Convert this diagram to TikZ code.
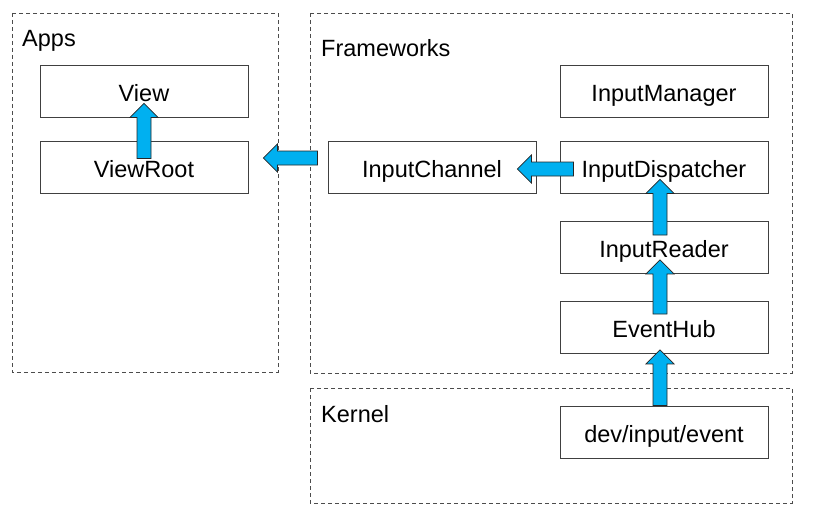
\documentclass[tikz,border=0pt]{standalone}
\usepackage{fontspec}
\setmainfont{Liberation Sans}
\usetikzlibrary{arrows.meta,calc,positioning}

\definecolor{arrowcyan}{RGB}{0,176,240}
\definecolor{boxline}{RGB}{64,64,64}

% fat block arrow from #1 (tail) to #2 (tip)
\newcommand{\blockarrow}[2]{%
  \coordinate (hb) at ($(#2)!14pt!(#1)$);
  \draw[fatarrow] ($(#1)!7pt!90:(#2)$) -- ($(hb)!7pt!90:(#2)$)
    -- ($(hb)!14pt!90:(#2)$) -- (#2) -- ($(hb)!14pt!-90:(#2)$)
    -- ($(hb)!7pt!-90:(#2)$) -- ($(#1)!7pt!-90:(#2)$) -- cycle;}

\begin{document}
\begin{tikzpicture}[x=1pt,y=-1pt,
    font=\fontsize{23.5}{28}\selectfont,
    layer/.style={draw=gray!60!black,dash pattern=on 4pt off 3pt,line width=0.8pt},
    box/.style={draw=boxline,line width=0.9pt,minimum width=208pt,minimum height=52pt,
      inner sep=0pt,text height=20.8pt,text depth=0pt},
    fatarrow/.style={fill=arrowcyan,draw=black!85,line width=0.7pt,line join=miter}]
  \useasboundingbox (0,0) rectangle (820,511);

  % layers
  \draw[layer] (12,13) rectangle (278,372);
  \draw[layer] (310,13) rectangle (792,373);
  \draw[layer] (310,388) rectangle (792,503);
  \node[anchor=base west,inner sep=0pt] (apps) at (22,47) {Apps};
  \node[anchor=base west,inner sep=0pt] (fw) at (321,57) {Frameworks};
  \node[anchor=base west,inner sep=0pt] (kernel) at (321,422) {Kernel};

  % boxes
  \node[box] (view) at (144,91) {View};
  \node[box] (viewroot) at (144,167) {ViewRoot};
  \node[box] (inputmanager) at (664,91.5) {InputManager};
  \node[box] (inputchannel) at (432,167) {InputChannel};
  \node[box] (inputdispatcher) at (664,167) {InputDispatcher};
  \node[box] (inputreader) at (664,247.5) {InputReader};
  \node[box] (eventhub) at (664,327.5) {EventHub};
  \node[box] (devevent) at (664,432) {dev/input/event};

  % arrow ends
  \coordinate (vr-tail) at ($(viewroot.north)+(0,18)$);
  \coordinate (vr-tip) at ($(view.south)+(0,-14)$);
  \coordinate (app-tail) at ($(inputchannel.west)+(-10,-9)$);
  \coordinate (app-tip) at ($(viewroot.east)+(15,-9)$);
  \coordinate (ch-tail) at ($(inputdispatcher.west)+(14,2)$);
  \coordinate (ch-tip) at ($(inputchannel.east)+(-19,2)$);
  \coordinate (disp-tail) at ($(inputreader.north)+(-4,14)$);
  \coordinate (disp-tip) at ($(inputdispatcher.south)+(-4,-14)$);
  \coordinate (rd-tail) at ($(eventhub.north)+(-4,13)$);
  \coordinate (rd-tip) at ($(inputreader.south)+(-4,-14)$);
  \coordinate (hub-tail) at ($(devevent.north)+(-4,0)$);
  \coordinate (hub-tip) at ($(eventhub.south)+(-4,-4)$);

  \blockarrow{vr-tail}{vr-tip}
  \blockarrow{app-tail}{app-tip}
  \blockarrow{ch-tail}{ch-tip}
  \blockarrow{disp-tail}{disp-tip}
  \blockarrow{rd-tail}{rd-tip}
  \blockarrow{hub-tail}{hub-tip}
\end{tikzpicture}
\end{document}
